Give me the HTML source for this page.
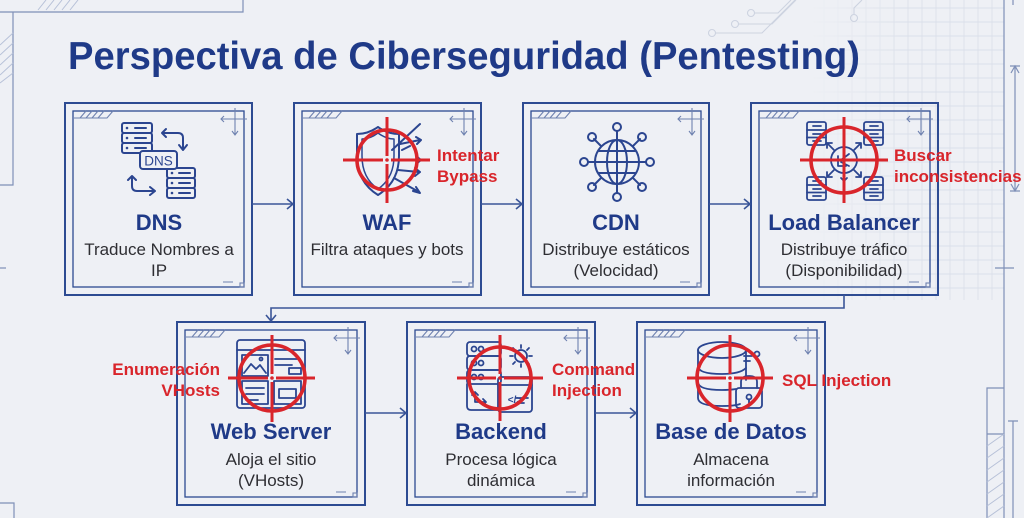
<!DOCTYPE html>
<html><head><meta charset="utf-8"><style>
html,body{margin:0;padding:0;background:#eef0f5;}
svg{display:block;}
text{font-family:"Liberation Sans",Arial,sans-serif;}
</style></head><body>
<svg width="1024" height="518" viewBox="0 0 1024 518" xmlns="http://www.w3.org/2000/svg">
<defs>
<linearGradient id="gfade" x1="0" y1="0" x2="1" y2="0">
<stop offset="0" stop-color="#fff" stop-opacity="0"/>
<stop offset="0.45" stop-color="#fff" stop-opacity="1"/>
<stop offset="1" stop-color="#fff" stop-opacity="1"/>
</linearGradient>
<mask id="gmask"><rect x="810" y="0" width="200" height="300" fill="url(#gfade)"/></mask>
</defs>
<rect width="1024" height="518" fill="#eef0f5"/>

<!-- background grid -->
<g mask="url(#gmask)" stroke="#dbe0ea" stroke-width="0.9">
<path d="M824 0V300M838 0V300M852 0V300M866 0V300M880 0V300M894 0V300M908 0V300M922 0V300M936 0V300M950 0V300M964 0V300M978 0V300M992 0V300"/>
<path d="M810 8H1004M810 22H1004M810 36H1004M810 50H1004M810 64H1004M810 78H1004M810 92H1004M810 106H1004M810 120H1004M810 134H1004M810 148H1004M810 162H1004M810 176H1004M810 190H1004M810 204H1004M810 218H1004M810 232H1004M810 246H1004M810 260H1004M810 274H1004M810 288H1004"/>
</g>

<!-- circuit traces -->
<g stroke="#cdd3e0" stroke-width="1.1" fill="none">
<path d="M716 33H762L795 0"/>
<circle cx="712" cy="33" r="3.5"/>
<path d="M739 24H772L796 0" />
<circle cx="735" cy="24" r="3.5"/>
<path d="M755 13H778L791 0"/>
<circle cx="751" cy="13" r="3.5"/>
<path d="M854 14V8L862 0"/>
<circle cx="854" cy="18" r="3.5"/>
</g>

<!-- frame decorations -->
<g stroke="#7f90b8" stroke-width="1.2" fill="none">
<path d="M0 12H243V0"/>
<path d="M13 12V185H0"/>
<path d="M0 268H6"/>
<path d="M0 503H14V518"/>
<path d="M1004 0V518"/>
<path d="M995 268H1014"/>
<path d="M1015 66V191M1010 66H1020M1010 191H1020M1011 73L1015 66L1019 73M1011 184L1015 191L1019 184"/>
<path d="M987 518V388H1004M987 434H1004"/>
<path d="M1013 518V421M1008 421H1018"/>
<path d="M1013 0V5"/>
</g>
<g stroke="#b7c1d8" stroke-width="1">
<path d="M38 10L46 0M46 10L54 0M54 10L62 0M62 10L70 0M70 10L78 0"/>
<path d="M0 45L13 33M0 55L13 43M0 65L13 53M0 75L13 63M0 83L13 73"/>
<path d="M987 446L1004 434M987 458L1004 446M987 470L1004 458M987 482L1004 470M987 494L1004 482M987 506L1004 494M987 518L1004 506"/>
</g>

<!-- title -->
<text x="68" y="69" font-size="39" font-weight="bold" fill="#1f3a88" textLength="792" lengthAdjust="spacingAndGlyphs">Perspectiva de Ciberseguridad (Pentesting)</text>

<!-- boxes -->
<g fill="none" stroke="#2d4b92">
<rect x="65" y="103" width="187" height="192" stroke-width="2"/>
<rect x="73" y="111" width="171" height="176" stroke-width="1.3"/>
<rect x="294" y="103" width="187" height="192" stroke-width="2"/>
<rect x="302" y="111" width="171" height="176" stroke-width="1.3"/>
<rect x="523" y="103" width="186" height="192" stroke-width="2"/>
<rect x="531" y="111" width="170" height="176" stroke-width="1.3"/>
<rect x="751" y="103" width="187" height="192" stroke-width="2"/>
<rect x="759" y="111" width="171" height="176" stroke-width="1.3"/>
<rect x="177" y="322" width="188" height="183" stroke-width="2"/>
<rect x="185" y="330" width="172" height="167" stroke-width="1.3"/>
<rect x="407" y="322" width="188" height="183" stroke-width="2"/>
<rect x="415" y="330" width="172" height="167" stroke-width="1.3"/>
<rect x="637" y="322" width="188" height="183" stroke-width="2"/>
<rect x="645" y="330" width="172" height="167" stroke-width="1.3"/>
</g>

<!-- box corner details -->
<g fill="none" stroke="#6f82b0" stroke-width="1.1">
<path d="M74 118H107L113 111M80 118L86 111M86 118L92 111M92 118L98 111M98 118L104 111"/>
<path d="M303 118H336L342 111M309 118L315 111M315 118L321 111M321 118L327 111M327 118L333 111"/>
<path d="M532 118H565L571 111M538 118L544 111M544 118L550 111M550 118L556 111M556 118L562 111"/>
<path d="M760 118H793L799 111M766 118L772 111M772 118L778 111M778 118L784 111M784 118L790 111"/>
<path d="M186 337H219L225 330M192 337L198 330M198 337L204 330M204 337L210 330M210 337L216 330"/>
<path d="M416 337H449L455 330M422 337L428 330M428 337L434 330M434 337L440 330M440 337L446 330"/>
<path d="M646 337H679L685 330M652 337L658 330M658 337L664 330M664 337L670 330M670 337L676 330"/>
<path d="M221 119H247M224 116L221 119L224 122M235 108V135M232 131L235 135L238 131"/>
<path d="M450 119H476M453 116L450 119L453 122M464 108V135M461 131L464 135L467 131"/>
<path d="M678 119H704M681 116L678 119L681 122M692 108V135M689 131L692 135L695 131"/>
<path d="M907 119H933M910 116L907 119L910 122M921 108V135M918 131L921 135L924 131"/>
<path d="M334 338H360M337 335L334 338L337 341M348 327V354M345 350L348 354L351 350"/>
<path d="M564 338H590M567 335L564 338L567 341M578 327V354M575 350L578 354L581 350"/>
<path d="M794 338H820M797 335L794 338L797 341M808 327V354M805 350L808 354L811 350"/>
<path d="M223 282H233M452 282H462M680 282H690M909 282H919M336 492H346M566 492H576M796 492H806"/>
<rect x="240" y="283" width="4" height="4"/>
<rect x="469" y="283" width="4" height="4"/>
<rect x="697" y="283" width="4" height="4"/>
<rect x="926" y="283" width="4" height="4"/>
<rect x="353" y="493" width="4" height="4"/>
<rect x="583" y="493" width="4" height="4"/>
<rect x="813" y="493" width="4" height="4"/>
</g>

<!-- connectors -->
<g fill="none" stroke="#3a5598" stroke-width="1.6">
<path d="M252 204H293M287 199L293 204L287 209"/>
<path d="M481 204H522M516 199L522 204L516 209"/>
<path d="M709 204H750M744 199L750 204L744 209"/>
<path d="M844 295V308H271V321M266 315L271 321L276 315"/>
<path d="M365 413H406M400 408L406 413L400 418"/>
<path d="M595 413H636M630 408L636 413L630 418"/>
</g>

<!-- ICONS -->
<g fill="none" stroke="#2b4590" stroke-width="2" stroke-linecap="round" stroke-linejoin="round">
<rect x="122" y="123" width="30" height="10" rx="2"/>
<rect x="122" y="133" width="30" height="10" rx="2"/>
<rect x="122" y="143" width="30" height="10" rx="2"/>
<path d="M135 128H146M135 138H146M135 148H146"/>
<rect x="167" y="168" width="28" height="10" rx="2"/>
<rect x="167" y="178" width="28" height="10" rx="2"/>
<rect x="167" y="188" width="28" height="10" rx="2"/>
<path d="M179 173H190M179 183H190M179 193H190"/>
<path d="M162 133H178Q183 133 183 138V149M179 145L183 150L187 145M166 129L162 133L166 137"/>
<path d="M132 176V186Q132 191 137 191H154M150 187L155 191L150 195M128 180L132 176L136 180"/>
<rect x="140" y="151" width="37" height="18" rx="3" fill="#eef0f5"/>
</g>
<g fill="#2b4590" stroke="none">
<circle cx="127" cy="128" r="1.3"/><circle cx="127" cy="138" r="1.3"/><circle cx="127" cy="148" r="1.3"/>
<circle cx="172" cy="173" r="1.3"/><circle cx="172" cy="183" r="1.3"/><circle cx="172" cy="193" r="1.3"/>
</g>
<text x="158.5" y="165.5" font-size="13.5" fill="#2b4590" text-anchor="middle">DNS</text>

<g fill="none" stroke="#2b4590" stroke-width="2" stroke-linecap="round" stroke-linejoin="round">
<path d="M378 127Q368 134 357 134V156Q357 182 378 195Q399 182 399 156V134Q388 134 378 127Z"/>
<path d="M378 133Q370 139 362 139V156Q362 178 378 189Q394 178 394 156V139Q386 139 378 133Z" stroke-width="1.5"/>
<path d="M392 150L420 124M398 160H420M416 156L421 160L416 164M400 144L420 140M416 137L421 140L417 144M398 170L419 172M415 168L420 172L415 176M394 178L419 192M413 191L420 193L416 187M402 150L410 146"/>

<circle cx="617" cy="162" r="22"/>
<ellipse cx="617" cy="162" rx="10" ry="22"/>
<path d="M617 140V184M595 162H639M599 151H635M599 173H635"/>
<path d="M617 140V131M639 162H646M595 162H588M633 146L640 139M601 146L594 139M633 178L640 185M601 178L594 185M617 184V193"/>
<circle cx="617" cy="127" r="4"/><circle cx="617" cy="197" r="4"/>
<circle cx="584" cy="162" r="4"/><circle cx="650" cy="162" r="4"/>
<circle cx="592" cy="137" r="4"/><circle cx="642" cy="137" r="4"/>
<circle cx="592" cy="187" r="4"/><circle cx="642" cy="187" r="4"/>
</g>

<g fill="none" stroke="#2b4590" stroke-width="1.8" stroke-linecap="round" stroke-linejoin="round">
<rect x="807" y="122" width="19" height="23" rx="2"/><path d="M807 130H826M807 137.5H826M813 126H821M813 134H821M813 141H821"/>
<rect x="864" y="122" width="19" height="23" rx="2"/><path d="M864 130H883M864 137.5H883M870 126H878M870 134H878M870 141H878"/>
<rect x="807" y="177" width="19" height="23" rx="2"/><path d="M807 185H826M807 192.5H826M813 181H821M813 189H821M813 196H821"/>
<rect x="864" y="177" width="19" height="23" rx="2"/><path d="M864 185H883M864 192.5H883M870 181H878M870 189H878M870 196H878"/>
<circle cx="844" cy="160" r="13"/>
<path d="M838 156V166H846M841 160L849 154M841 162L849 166"/>
<path d="M834 150L827 143M827 148V143H832M854 150L861 143M856 143H861V148M834 170L827 177M827 172V177H832M854 170L861 177M856 177H861V172M844 173V181M841 178L844 181L847 178M831 160H823M844 147V139"/>

<rect x="237" y="340" width="68" height="68" rx="3"/>
<path d="M237 350H305"/>
<rect x="242" y="355" width="26" height="21"/>
<path d="M244 373L251 364L256 369L260 365L266 373"/>
<circle cx="261" cy="359" r="1.5"/>
<path d="M275 359H300M275 365H292"/>
<rect x="289" y="368" width="12" height="6"/>
<rect x="242" y="381" width="26" height="23"/>
<path d="M246 388H264M246 394H264M246 400H258"/>
<rect x="274" y="381" width="27" height="23"/>
<rect x="279" y="389" width="17" height="9"/>

<rect x="467" y="342" width="34" height="14" rx="3"/>
<rect x="467" y="356" width="34" height="14" rx="3"/>
<rect x="467" y="370" width="34" height="14" rx="3"/>
<path d="M467 384V406Q467 410 471 410H497"/>
<circle cx="474" cy="349" r="2.5"/><circle cx="481" cy="349" r="2.5"/>
<circle cx="474" cy="363" r="2.5"/><circle cx="481" cy="363" r="2.5"/>
<circle cx="474" cy="377" r="2.5"/><circle cx="481" cy="377" r="2.5"/>
<path d="M475 402V392M472 395L475 392L478 395M475 402H486M483 399L486 402L483 405"/>
<circle cx="521" cy="356" r="6"/>
<path d="M521 345V348M521 364V367M510 356H513M529 356H532M513 348L515 350M527 362L529 364M529 348L527 350M513 364L515 362"/>
<rect x="498" y="377" width="34" height="35" rx="3"/>
<path d="M498 385H532M516 398H528M516 403H524"/>

<ellipse cx="722" cy="350" rx="24" ry="8"/>
<path d="M698 350V398Q698 406 722 406Q735 406 740 404M746 350V380"/>
<path d="M698 366Q698 374 722 374Q740 374 746 368M698 382Q698 390 722 390Q730 390 736 389"/>
<path d="M744 356H752M744 361H750"/>
<circle cx="757" cy="354" r="2.5"/>
<rect x="736" y="388" width="26" height="20" rx="3"/>
<path d="M741 388V382Q741 376 749 376Q757 376 757 382V388"/>
<circle cx="749" cy="397" r="2.5"/>
<path d="M749 399V403"/>
</g>
<text x="515" y="403" font-size="10" fill="#2b4590" font-weight="bold" text-anchor="middle">&lt;/&gt;</text>

<!-- crosshairs -->
<g fill="none" stroke="#d9252b" stroke-linecap="butt">
<circle cx="387" cy="160" r="30" stroke-width="3.6"/>
<path d="M343 160H383M391 160H430M387 117V156M387 164V203" stroke-width="3"/>
<circle cx="844" cy="160" r="33" stroke-width="3.6"/>
<path d="M800 160H888M844 117V203" stroke-width="3"/>
<circle cx="272" cy="378" r="33" stroke-width="3.6"/>
<path d="M228 378H268M276 378H315M272 335V374M272 382V422" stroke-width="3"/>
<circle cx="500" cy="378" r="31" stroke-width="3.6"/>
<path d="M457 378H496M504 378H543M500 335V374M500 382V421" stroke-width="3"/>
<circle cx="730" cy="378" r="33" stroke-width="3.6"/>
<path d="M687 378H726M734 378H773M730 335V374M730 382V422" stroke-width="3"/>
</g>
<g fill="#d9252b">
<circle cx="387" cy="160" r="1.8"/><circle cx="272" cy="378" r="1.8"/><circle cx="500" cy="378" r="1.8"/><circle cx="730" cy="378" r="1.8"/>
</g>

<!-- red labels -->
<g font-size="17" font-weight="bold" fill="#d9252b">
<text x="437" y="161">Intentar</text>
<text x="437" y="182">Bypass</text>
<text x="894" y="161">Buscar</text>
<text x="894" y="182">inconsistencias</text>
<text x="220" y="375" text-anchor="end">Enumeración</text>
<text x="220" y="396" text-anchor="end">VHosts</text>
<text x="552" y="375">Command</text>
<text x="552" y="396">Injection</text>
<text x="782" y="386">SQL Injection</text>
</g>

<!-- node titles -->
<g font-size="22" font-weight="bold" fill="#1f3a88" text-anchor="middle">
<text x="159" y="230">DNS</text>
<text x="387" y="230">WAF</text>
<text x="616" y="230">CDN</text>
<text x="844" y="230">Load Balancer</text>
<text x="271" y="439">Web Server</text>
<text x="501" y="439">Backend</text>
<text x="731" y="439">Base de Datos</text>
</g>
<g font-size="17" fill="#2e2e33" text-anchor="middle">
<text x="159" y="255">Traduce Nombres a</text>
<text x="159" y="276">IP</text>
<text x="387" y="255">Filtra ataques y bots</text>
<text x="616" y="255">Distribuye estáticos</text>
<text x="616" y="276">(Velocidad)</text>
<text x="844" y="255">Distribuye tráfico</text>
<text x="844" y="276">(Disponibilidad)</text>
<text x="271" y="465">Aloja el sitio</text>
<text x="271" y="486">(VHosts)</text>
<text x="501" y="465">Procesa lógica</text>
<text x="501" y="486">dinámica</text>
<text x="731" y="465">Almacena</text>
<text x="731" y="486">información</text>
</g>
</svg>
</body></html>
